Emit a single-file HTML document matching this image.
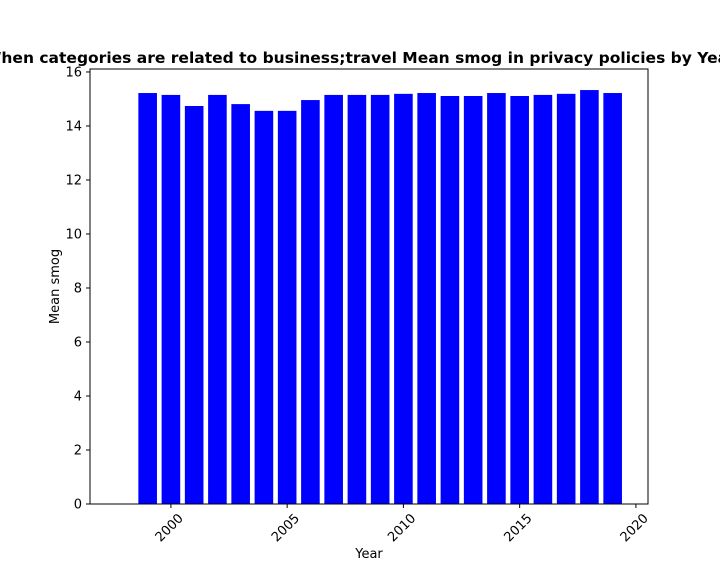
<!DOCTYPE html>
<html><head><meta charset="utf-8"><style>
body{margin:0;background:#fff;width:720px;height:576px;overflow:hidden;font-family:"Liberation Sans","DejaVu Sans",sans-serif}
</style></head><body>
<svg id="chart" width="720" height="576" xmlns="http://www.w3.org/2000/svg" font-family="DejaVu Sans, Liberation Sans, sans-serif"></svg>
<script>
const years=[1999,2000,2001,2002,2003,2004,2005,2006,2007,2008,2009,2010,2011,2012,2013,2014,2015,2016,2017,2018,2019];
const values=[15.22,15.15,14.74,15.15,14.81,14.56,14.56,14.96,15.15,15.15,15.15,15.19,15.22,15.11,15.11,15.22,15.11,15.15,15.19,15.33,15.22];
const yTicks=[0,2,4,6,8,10,12,14,16];
const xTicks=[2000,2005,2010,2015,2020];
const L=90,R=648,T=69,B=504;
const x0=1996.52,x1=2020.52,y0=0,y1=16.11;
const sx=v=>L+(v-x0)/(x1-x0)*(R-L);
const sy=v=>B-(v-y0)/(y1-y0)*(B-T);
const svg=document.getElementById('chart');
const NS='http://www.w3.org/2000/svg';
function mk(t,a,p){const e=document.createElementNS(NS,t);for(const k in a)e.setAttribute(k,a[k]);(p||svg).appendChild(e);return e;}
const title=mk('text',{x:360,y:63,'text-anchor':'middle','font-size':15.5,'font-weight':'bold'});


title.textContent='When categories are related to business;travel Mean smog in privacy policies by Year';
const bw=(sx(1)-sx(0))*0.8;
years.forEach((yr,i)=>{
 const r=mk('rect',{x:sx(yr)-bw/2,y:sy(values[i]),width:bw,height:sy(0)-sy(values[i]),fill:'#0000ff'});
 
 
});
const frame=mk('rect',{x:L,y:T,width:R-L,height:B-T,fill:'none',stroke:'#000','stroke-width':1});


yTicks.forEach(v=>{
 mk('line',{x1:L-4,x2:L,y1:sy(v),y2:sy(v),stroke:'#000'});
 const t=mk('text',{x:L-8,y:sy(v)+4.5,'text-anchor':'end','font-size':13});
 
 
 t.textContent=v;
});
xTicks.forEach(v=>{
 const x=sx(v)+13,y=B+15;
 mk('line',{x1:sx(v),x2:sx(v),y1:B,y2:B+4,stroke:'#000'});
 const t=mk('text',{x:x,y:y,'text-anchor':'end','font-size':13,transform:`rotate(-45 ${x} ${y})`});
 
 
 t.textContent=v;
});
const xt=mk('text',{x:(L+R)/2,y:558,'text-anchor':'middle','font-size':13});


xt.textContent='Year';
const yt=mk('text',{x:59,y:(T+B)/2,'text-anchor':'middle','font-size':13,transform:`rotate(-90 59 ${(T+B)/2})`});


yt.textContent='Mean smog';
</script>
</body></html>
